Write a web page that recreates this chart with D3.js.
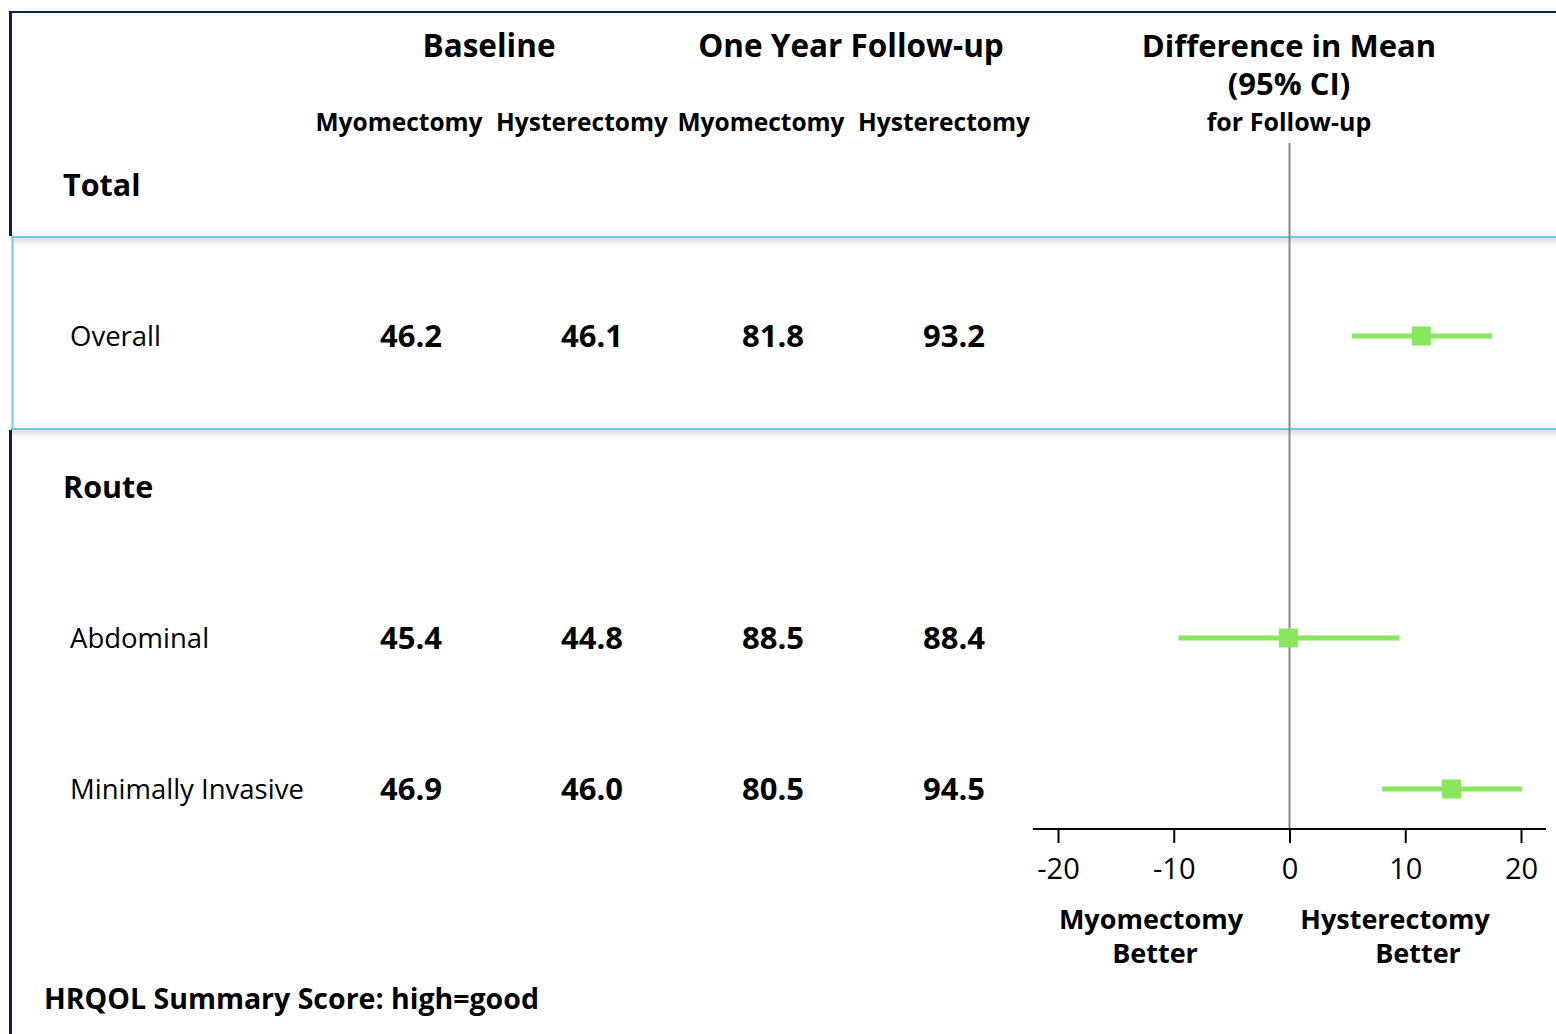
<!DOCTYPE html>
<html>
<head>
<meta charset="utf-8">
<script src="https://cdn.jsdelivr.net/npm/d3@7"></script>
<style>
  html, body { margin: 0; padding: 0; background: #fff; }
  svg { display: block; font-family: "Open Sans", "Noto Sans", sans-serif; }
</style>
</head>
<body>
<svg id="chart" width="1556" height="1034"></svg>
<script>
// Table rows, top to bottom: group headings and subgroup rows
const rowNames = ["Total", "Overall", "Route", "Abdominal", "Minimally Invasive"];
const groupNames = ["Total", "Route"];

// Subgroups with numeric values
const subgroups = ["Overall", "Abdominal", "Minimally Invasive"];
const baselineMyomectomy = [46.2, 45.4, 46.9];
const baselineHysterectomy = [46.1, 44.8, 46.0];
const followupMyomectomy = [81.8, 88.5, 80.5];
const followupHysterectomy = [93.2, 88.4, 94.5];

// Difference in mean at follow-up (hysterectomy - myomectomy) with 95% CI
const diffMean = [11.4, -0.1, 14.0];
const ciLower = [5.4, -9.6, 8.0];
const ciUpper = [17.5, 9.5, 20.1];

const axisTicks = [-20, -10, 0, 10, 20];
const columnGroups = ["Baseline", "One Year Follow-up"];
const columnNames = ["Myomectomy", "Hysterectomy", "Myomectomy", "Hysterectomy"];

const svg = d3.select("#chart");
const W = 1556, H = 1034;

const y = d3.scalePoint().domain(rowNames).range([185, 789]);
const x = d3.scaleLinear().domain([-20, 20]).range([1058, 1521]);
const colX = d3.scalePoint().domain(d3.range(4)).range([411, 954]);
const headX = [399, 582, 761, 944];

const green = "#8ae65c";
const blue = "#70c8dc";

// shadow gradient under highlight lines
const defs = svg.append("defs");
const grad = defs.append("linearGradient").attr("id", "shade")
  .attr("x1", 0).attr("y1", 0).attr("x2", 0).attr("y2", 1);
grad.append("stop").attr("offset", "0%").attr("stop-color", "#000").attr("stop-opacity", 0.13);
grad.append("stop").attr("offset", "100%").attr("stop-color", "#000").attr("stop-opacity", 0);

// Highlight band around the Overall row
const bandTop = 237, bandBottom = 429;
[bandTop, bandBottom].forEach(yy => {
  svg.append("rect").attr("x", 12).attr("y", yy + 1).attr("width", W - 12).attr("height", 8)
    .attr("fill", "url(#shade)");
});
svg.append("line").attr("x1", 12.5).attr("x2", 12.5).attr("y1", bandTop).attr("y2", bandBottom)
  .attr("stroke", blue).attr("stroke-width", 2);
[bandTop, bandBottom].forEach(yy => {
  svg.append("line").attr("x1", 11).attr("x2", W).attr("y1", yy).attr("y2", yy)
    .attr("stroke", blue).attr("stroke-width", 2);
});

// Frame: navy top and left edges
svg.append("line").attr("x1", 9).attr("x2", W).attr("y1", 12).attr("y2", 12)
  .attr("stroke", "#0b1f55").attr("stroke-width", 2);
svg.append("line").attr("x1", 10.5).attr("x2", 10.5).attr("y1", 11).attr("y2", bandTop - 1)
  .attr("stroke", "#0b1f55").attr("stroke-width", 3);
svg.append("line").attr("x1", 10.5).attr("x2", 10.5).attr("y1", bandBottom + 1).attr("y2", H)
  .attr("stroke", "#0b1f55").attr("stroke-width", 3);

// Column headers
const head = svg.append("g").attr("fill", "#000").attr("font-weight", "bold");
head.selectAll("text.grp").data(columnGroups).join("text")
  .attr("x", (d, i) => i === 0 ? 489 : 851).attr("y", 57)
  .attr("text-anchor", "middle").attr("font-size", 31.5).text(d => d);
head.selectAll("text.col").data(columnNames).join("text")
  .attr("x", (d, i) => headX[i]).attr("y", 131)
  .attr("text-anchor", "middle").attr("font-size", 24.5).text(d => d);
head.append("text").attr("x", 1289).attr("y", 57).attr("text-anchor", "middle")
  .attr("font-size", 31).text("Difference in Mean");
head.append("text").attr("x", 1289).attr("y", 95).attr("text-anchor", "middle")
  .attr("font-size", 31).text("(95% CI)");
head.append("text").attr("x", 1289).attr("y", 131).attr("text-anchor", "middle")
  .attr("font-size", 25).text("for Follow-up");

// Group headings
svg.selectAll("text.group").data(groupNames).join("text")
  .attr("class", "group").attr("x", 63).attr("y", d => y(d)).attr("dy", "0.35em")
  .attr("font-size", 30.5).attr("font-weight", "bold").text(d => d);

// Subgroup labels
svg.selectAll("text.sub").data(subgroups).join("text")
  .attr("class", "sub").attr("x", 70).attr("y", d => y(d)).attr("dy", "0.35em")
  .attr("font-size", 27.5).text(d => d);

// Value columns
const valueCols = [baselineMyomectomy, baselineHysterectomy, followupMyomectomy, followupHysterectomy];
valueCols.forEach((vals, c) => {
  svg.append("g").selectAll("text").data(vals).join("text")
    .attr("x", colX(c)).attr("y", (d, i) => y(subgroups[i])).attr("dy", "0.35em")
    .attr("text-anchor", "middle").attr("font-size", 31).attr("font-weight", "bold")
    .text(d => d3.format(".1f")(d));
});

// Reference line at zero
const axisY = 829;
svg.append("line").attr("x1", x(0)).attr("x2", x(0)).attr("y1", 143).attr("y2", axisY)
  .attr("stroke", "#888").attr("stroke-width", 2);

// Confidence intervals and point estimates
const forest = svg.append("g");
forest.selectAll("line").data(subgroups).join("line")
  .attr("x1", (d, i) => x(ciLower[i])).attr("x2", (d, i) => x(ciUpper[i]))
  .attr("y1", d => y(d)).attr("y2", d => y(d))
  .attr("stroke", green).attr("stroke-width", 5);
const sq = 19;
forest.selectAll("rect").data(subgroups).join("rect")
  .attr("x", (d, i) => x(diffMean[i]) - sq / 2).attr("y", d => y(d) - sq / 2)
  .attr("width", sq).attr("height", sq).attr("fill", green);

// Bottom axis
svg.append("line").attr("x1", 1033).attr("x2", 1546).attr("y1", axisY).attr("y2", axisY)
  .attr("stroke", "#000").attr("stroke-width", 2);
const axis = svg.append("g").attr("transform", `translate(0,${axisY})`)
  .call(d3.axisBottom(x).tickValues(axisTicks).tickSize(14).tickPadding(15).tickFormat(d3.format("d")));
axis.select(".domain").remove();
axis.selectAll(".tick line").attr("stroke", "#000").attr("stroke-width", 2);
axis.selectAll(".tick text").attr("font-size", 29).attr("font-family", "Open Sans, sans-serif")
  .attr("fill", "#000").attr("dy", "0.71em").text(d => d < 0 ? "-" + Math.abs(d) : d);

// Direction labels
const dir = svg.append("g").attr("font-weight", "bold").attr("font-size", 27).attr("text-anchor", "middle");
dir.append("text").attr("x", 1151).attr("y", 929).text("Myomectomy");
dir.append("text").attr("x", 1155).attr("y", 963).text("Better");
dir.append("text").attr("x", 1395).attr("y", 929).text("Hysterectomy");
dir.append("text").attr("x", 1418).attr("y", 963).text("Better");

// Footnote
svg.append("text").attr("x", 44).attr("y", 1009).attr("font-size", 28.5).attr("font-weight", "bold")
  .text("HRQOL Summary Score: high=good");
</script>
</body>
</html>
